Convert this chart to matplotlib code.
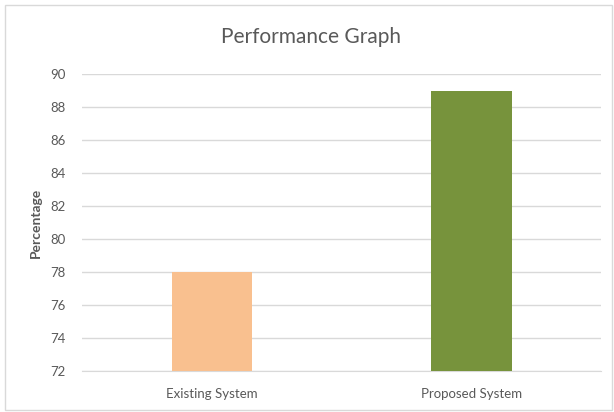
import matplotlib
matplotlib.use("Agg")
import matplotlib.pyplot as plt
from matplotlib.patches import Rectangle

# data
systems = ["Existing System", "Proposed System"]
percentages = [78, 89]
bar_colors = ["#F9C08F", "#77933C"]
yticks = [72, 74, 76, 78, 80, 82, 84, 86, 88, 90]

plt.rcParams['font.family'] = ['Lato', 'DejaVu Sans']
grey = "#595959"

fig = plt.figure(figsize=(6.14, 4.12), dpi=100)
ax = fig.add_axes([0.1336, 0.0995, 0.8454, 0.7205])

ax.bar(range(len(systems)), percentages, width=0.31, color=bar_colors, zorder=3)
ax.set_xlim(-0.5, len(systems) - 0.5)
ax.set_ylim(yticks[0], yticks[-1])
ax.set_yticks(yticks)
ax.set_xticks(range(len(systems)))
ax.set_xticklabels(systems)

ax.grid(axis='y', color="#D9D9D9", linewidth=1, zorder=0)
for s in ['top', 'right', 'left']:
    ax.spines[s].set_visible(False)
ax.spines['bottom'].set_color("#D9D9D9")
ax.tick_params(axis='both', length=0, colors=grey, labelsize=9.5)
ax.tick_params(axis='x', pad=12)
ax.tick_params(axis='y', pad=12)

ax.set_ylabel("Percentage", color=grey, fontsize=10, fontweight='bold', labelpad=6)
fig.text(0.507, 0.91, "Performance Graph", ha='center', va='center',
         color=grey, fontsize=15)

# light frame round the chart
fig.patches.append(Rectangle((0.008, 0.005), 0.988, 0.983, transform=fig.transFigure,
                             fill=False, edgecolor="#D9D9D9", linewidth=1))

fig.savefig("out.png", dpi=100)
